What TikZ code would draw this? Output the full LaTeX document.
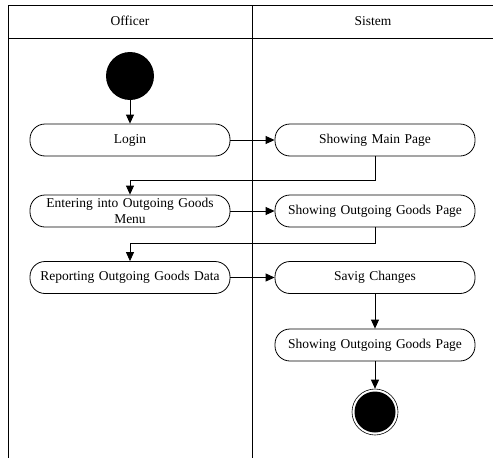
\documentclass[tikz,border=0pt]{standalone}
\usepackage{fontspec}
\setmainfont{Liberation Serif}
\usetikzlibrary{arrows.meta}
\begin{document}
\begin{tikzpicture}[x=1pt,y=-1pt,line width=0.8pt,
  act/.style={draw,rounded corners=15pt,minimum width=200pt,minimum height=32pt,
    text width=190pt,align=center,inner sep=0pt,font=\fontsize{13.5}{16.5}\selectfont},
  lane/.style={font=\fontsize{13.5}{16.5}\selectfont},
  arr/.style={-{Triangle[length=9pt,width=8pt]}}]
\useasboundingbox (0,0) rectangle (493,458);
\draw (8,458) -- (8,5) -- (493,5);
\draw (8,38) -- (493,38);
\draw (252,5) -- (252,458);
\node[lane] (h1) at (130,21) {Officer};
\node[lane] (h2) at (373,21) {Sistem};
\node[circle,fill,minimum size=48pt,inner sep=0pt] (start) at (130,76) {};
\node[act] (login) at (130,140) {Login};
\node[act] (smp) at (375,140) {Showing Main Page};
\node[act] (enter) at (130,211) {Entering into Outgoing Goods\\Menu};
\node[act] (sogp1) at (375,211) {Showing Outgoing Goods Page};
\node[act] (rep) at (130,277.5) {Reporting Outgoing Goods Data};
\node[act] (savig) at (375,277.5) {Savig Changes};
\node[act] (sogp2) at (375,345) {Showing Outgoing Goods Page};
\node[circle,draw,line width=0.6pt,minimum size=46pt,inner sep=0pt,
  path picture={\fill (path picture bounding box.center) circle (20.5pt);}] (end) at (375,412) {};
\draw[arr] (start) -- (login);
\draw[arr] (login) -- (smp);
\draw[arr] (smp.south) -- ++(0,24) -| (enter.north);
\draw[arr] (enter) -- (sogp1);
\draw[arr] (sogp1.south) -- ++(0,16) -| (rep.north);
\draw[arr] (rep) -- (savig);
\draw[arr] (savig) -- (sogp2);
\draw[arr] (sogp2) -- (end);
\end{tikzpicture}
\end{document}
